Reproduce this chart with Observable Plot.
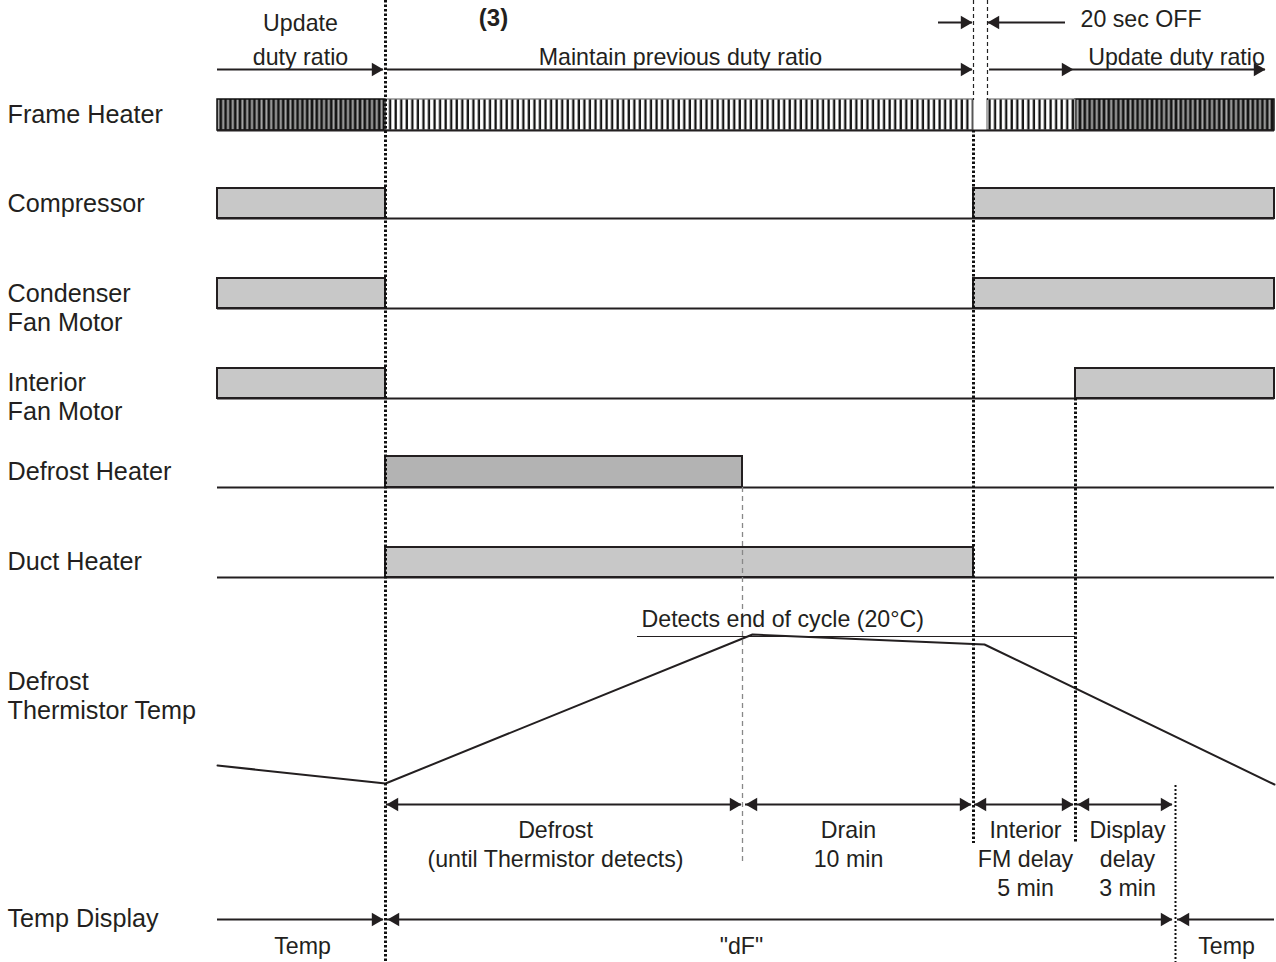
<!DOCTYPE html>
<html><head><meta charset="utf-8">
<script src="https://cdn.jsdelivr.net/npm/d3@7"></script>
<script src="https://cdn.jsdelivr.net/npm/@observablehq/plot@0.6"></script>
<style>body{margin:0;background:#fff}</style>
</head><body><div id="chart"></div>
<script>
const ink = "#231f20";

// Timeline events (time units; 0 = left edge of the diagram)
const eventNames = ["start","defrostStart","thermistorDetect","drainEnd","offEnd","fanStart","displayEnd","end"];
const eventTimes = [0, 168, 525, 756, 770, 858, 958, 1057];
const T = Object.fromEntries(eventNames.map((n, i) => [n, eventTimes[i]]));

// Row labels
const rowLabels = ["Frame Heater","Compressor","Condenser\nFan Motor","Interior\nFan Motor","Defrost Heater","Duct Heater","Defrost\nThermistor Temp","Temp Display"];
const rowLabelY = [113, 202, 306.5, 395.5, 470, 560, 694.5, 917];

// Frame heater (duty-ratio pulses)
const frameLevel = [99, 130];
const frameSegments = [["start","defrostStart","dense"],["defrostStart","drainEnd","sparse"],["offEnd","fanStart","sparse"],["fanStart","end","dense"]];

// ON/OFF signal rows
const signalRows = ["Compressor","Condenser Fan Motor","Interior Fan Motor","Defrost Heater","Duct Heater"];
const signalHigh = [188, 278, 368, 456, 547];
const signalLow  = [218, 308, 398, 487, 577];
const onIntervals = [
  ["Compressor","start","defrostStart"], ["Compressor","drainEnd","end"],
  ["Condenser Fan Motor","start","defrostStart"], ["Condenser Fan Motor","drainEnd","end"],
  ["Interior Fan Motor","start","defrostStart"], ["Interior Fan Motor","fanStart","end"],
  ["Defrost Heater","defrostStart","thermistorDetect"],
  ["Duct Heater","defrostStart","drainEnd"]
];

// Defrost thermistor temperature trace
const thermT = [0, 168, 535, 767, 1057];
const thermY = [765, 783, 634, 644, 784];
const detectLine = [420, 858, 636];

// Arrows: [y, from, to, heads]
const arrows = [
  [69, 0, 166, "end"], [69, 170, 755, "end"], [69, 772, 856, "end"], [69, 856, 1048, "end"],
  [22, 721, 755, "end"], [22, 848, 770, "end"],
  [804, 169, 524, "both"], [804, 528, 754, "both"], [804, 757, 856, "both"], [804, 860, 955, "both"],
  [919, 0, 166, "end"], [919, 170, 955, "both"], [919, 1057, 960, "end"]
];

// Vertical guides: [event, y1, y2, kind]
const guides = [
  ["defrostStart", 0, 962, "thick"],
  ["drainEnd", 0, 100, "thin"], ["offEnd", 0, 100, "thin"],
  ["drainEnd", 130, 843, "thick"],
  ["fanStart", 398, 843, "thick"],
  ["thermistorDetect", 487, 862, "grey"],
  ["displayEnd", 785, 962, "fine"]
];

// Annotations: [text, t, y, anchor]
const notes = [
  ["Update\nduty ratio", 83, 36.5, "middle"],
  ["Maintain previous duty ratio", 463, 53.5, "middle"],
  ["20 sec OFF", 863, 19.5, "start"],
  ["Update duty ratio", 959, 53.5, "middle"],
  ["Detects end of cycle (20°C)", 424, 619.5, "start"]
];
const dimNotes = [
  ["Defrost\n(until Thermistor detects)", 338, 843],
  ["Drain\n10 min", 631, 843],
  ["Interior\nFM delay\n5 min", 808, 857.5],
  ["Display\ndelay\n3 min", 910, 857.5]
];
const bottomNotes = [["Temp", 85, 946.5], ["\"dF\"", 524, 946.5], ["Temp", 1009, 946.5]];

// ---- derived tables ----
const levelOf = Object.fromEntries(signalRows.map((r, i) => [r, {hi: signalHigh[i], lo: signalLow[i]}]));
const onRects = onIntervals.map(([row, a, b]) => ({row, x1: T[a], x2: T[b], y1: levelOf[row].hi, y2: levelOf[row].lo}));
const frameRects = frameSegments.map(([a, b, kind]) => ({x1: T[a], x2: T[b], kind}));
const thermo = thermT.map((t, i) => ({t, y: thermY[i]}));
const links = arrows.map(([y, x1, x2]) => ({y, x1, x2}));
const heads = arrows.flatMap(([y, x1, x2, h]) => {
  const dir = Math.sign(x2 - x1);
  const out = [{y, x: x2, dir}];
  if (h === "both") out.push({y, x: x1, dir: -dir});
  return out;
});
const guideRows = guides.map(([e, y1, y2, kind]) => ({x: T[e], y1, y2, kind}));
const font = "'Liberation Sans', Arial, Helvetica, sans-serif";
const fs = 23.2;
const headR = 5;
const tip = 2 * Math.sqrt(Math.PI * headR * headR / (3 * Math.sqrt(3)));

const svg = Plot.plot({
  width: 1276, height: 962,
  marginLeft: 0, marginRight: 0, marginTop: 0, marginBottom: 0,
  x: {domain: [0, 1057], range: [217, 1274], axis: null},
  y: {domain: [0, 962], range: [0, 962], axis: null},
  style: {fontFamily: font, background: "#fff", color: ink},
  marks: [
    // frame heater
    Plot.rect(frameRects.filter(d => d.kind === "dense"), {x1: "x1", x2: "x2", y1: frameLevel[0], y2: frameLevel[1], fill: "url(#fh-dense)", stroke: "#111", strokeWidth: 1.5}),
    Plot.rect(frameRects.filter(d => d.kind === "sparse"), {x1: "x1", x2: "x2", y1: frameLevel[0], y2: frameLevel[1], fill: "url(#fh-sparse)", stroke: "#777", strokeWidth: 1.2}),
    Plot.ruleY([frameLevel[1]], {x1: 0, x2: 1057, stroke: ink, strokeWidth: 2}),
    // signal bars
    Plot.rect(onRects.filter(d => d.row !== "Defrost Heater"), {x1: "x1", x2: "x2", y1: "y1", y2: "y2", fill: "#c8c8c8", stroke: ink, strokeWidth: 2}),
    Plot.rect(onRects.filter(d => d.row === "Defrost Heater"), {x1: "x1", x2: "x2", y1: "y1", y2: "y2", fill: "#b3b3b3", stroke: ink, strokeWidth: 2}),
    Plot.ruleY(signalLow, {x1: 0, x2: 1057, stroke: ink, strokeWidth: 2}),
    // thermistor
    Plot.ruleY([detectLine[2]], {x1: detectLine[0], x2: detectLine[1], stroke: ink, strokeWidth: 1.2}),
    Plot.line(thermo, {x: "t", y: "y", stroke: ink, strokeWidth: 2}),
    // guides
    Plot.ruleX(guideRows.filter(d => d.kind === "thick"), {x: "x", y1: "y1", y2: "y2", stroke: "#111", strokeWidth: 3, strokeDasharray: "2.5,2"}),
    Plot.ruleX(guideRows.filter(d => d.kind === "thin"), {x: "x", y1: "y1", y2: "y2", stroke: "#222", strokeWidth: 1.2, strokeDasharray: "4,3"}),
    Plot.ruleX(guideRows.filter(d => d.kind === "grey"), {x: "x", y1: "y1", y2: "y2", stroke: "#888", strokeWidth: 1.3, strokeDasharray: "5,4"}),
    Plot.ruleX(guideRows.filter(d => d.kind === "fine"), {x: "x", y1: "y1", y2: "y2", stroke: "#111", strokeWidth: 2, strokeDasharray: "2,2"}),
    // arrows
    Plot.ruleY(links, {y: "y", x1: "x1", x2: "x2", stroke: ink, strokeWidth: 2}),
    Plot.dot(heads.filter(d => d.dir > 0), {x: "x", y: "y", symbol: "triangle", r: headR, fill: ink, rotate: 90, dx: -tip}),
    Plot.dot(heads.filter(d => d.dir < 0), {x: "x", y: "y", symbol: "triangle", r: headR, fill: ink, rotate: -90, dx: tip}),
    // labels
    Plot.text(rowLabels, {y: (d, i) => rowLabelY[i], text: d => d, frameAnchor: "left", dx: 7, textAnchor: "start", lineAnchor: "middle", lineHeight: 1.16, fontSize: 25.2, fill: ink}),
    Plot.text(notes.filter(d => d[3] === "middle"), {x: d => d[1], y: d => d[2], text: d => d[0], textAnchor: "middle", lineAnchor: "middle", lineHeight: 1.47, fontSize: fs, fill: ink}),
    Plot.text(notes.filter(d => d[3] === "start"), {x: d => d[1], y: d => d[2], text: d => d[0], textAnchor: "start", lineAnchor: "middle", fontSize: fs, fill: ink}),
    Plot.text(["(3)"], {x: 276, y: 18, text: d => d, textAnchor: "middle", lineAnchor: "middle", fontSize: 24, fontWeight: "bold", fill: ink}),
    Plot.text(dimNotes, {x: d => d[1], y: d => d[2], text: d => d[0], textAnchor: "middle", lineAnchor: "middle", lineHeight: 1.25, fontSize: fs, fill: ink}),
    Plot.text(bottomNotes, {x: d => d[1], y: d => d[2], text: d => d[0], textAnchor: "middle", lineAnchor: "middle", fontSize: fs, fill: ink})
  ]
});

// stripe patterns for the frame heater pulses
const defs = d3.select(svg).insert("defs", ":first-child");
const pd = defs.append("pattern").attr("id", "fh-dense").attr("patternUnits", "userSpaceOnUse").attr("width", 4.8).attr("height", 40);
pd.append("rect").attr("width", 4.8).attr("height", 40).attr("fill", "#141414");
pd.append("rect").attr("x", 1.4).attr("width", 2).attr("height", 40).attr("fill", "#ababab");
const ps = defs.append("pattern").attr("id", "fh-sparse").attr("patternUnits", "userSpaceOnUse").attr("width", 5.55).attr("height", 40);
ps.append("rect").attr("width", 5.55).attr("height", 40).attr("fill", "#fff");
ps.append("rect").attr("x", 0.5).attr("width", 2.3).attr("height", 40).attr("fill", "#141414");

document.getElementById("chart").appendChild(svg);
</script>
</body></html>
